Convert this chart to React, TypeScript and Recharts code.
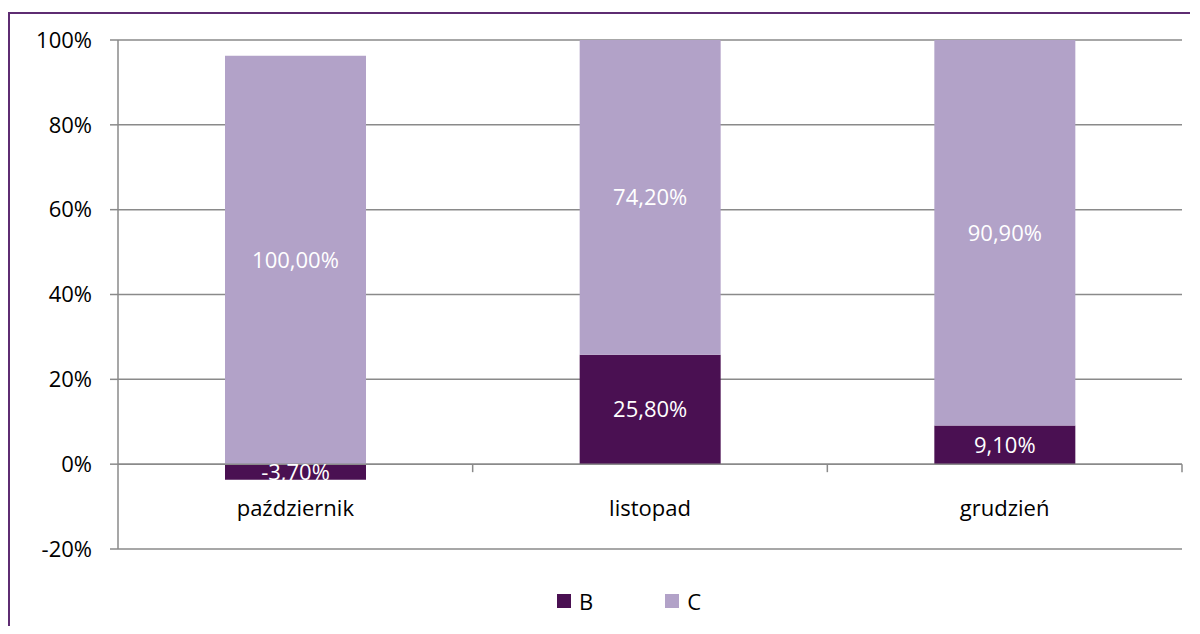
import React from 'react';
import { BarChart, Bar, XAxis, YAxis, CartesianGrid, Legend, LabelList, ReferenceLine } from 'recharts';

const months = ['październik', 'listopad', 'grudzień'];
const bValues = [-3.7, 25.8, 9.1];
const cValues = [100, 74.2, 90.9];
const yTicks = [-20, 0, 20, 40, 60, 80, 100];

const B_COLOR = '#4a1052';
const C_COLOR = '#b2a2c8';
const GRID = '#8a8a8a';
const FONT = '"Open Sans", Lato, sans-serif';
const FS = 22;

const CHART_W = 1180;
const CHART_H = 612;
const MARGIN = { top: 26, right: 8, left: 0, bottom: 47 };
const Y_AXIS_W = 108;
const PLOT_H = CHART_H - MARGIN.top - MARGIN.bottom - 30;
const PLOT_W = CHART_W - MARGIN.left - MARGIN.right - Y_AXIS_W;
// distance of the 0% line above the bottom of the plot
const ZERO_UP = (PLOT_H * (0 - yTicks[0])) / (yTicks[yTicks.length - 1] - yTicks[0]);

// bars drawn as ranges so C starts on 0 when B is negative (like Excel did)
const data = months.map((m, i) => ({
    name: m,
    b: bValues[i],
    c: cValues[i],
    bRange: [0, bValues[i]],
    cRange: [Math.max(bValues[i], 0), bValues[i] + cValues[i]],
}));

const pct = (v: any) => `${Number(v).toFixed(2).replace('.', ',')}%`;

const CategoryTick = (props: any) => {
    const { x, y, payload, width, visibleTicksCount } = props;
    const band = (typeof width === 'number' ? width : PLOT_W) / (visibleTicksCount || months.length);
    const zeroY = y - ZERO_UP;
    return (
        <g>
            <line x1={x + band / 2} x2={x + band / 2} y1={zeroY} y2={zeroY + 8} stroke={GRID} strokeWidth={1.5} />
            <text x={x} y={y - 41} dy="0.35em" textAnchor="middle" fill="#000" fontSize={FS} fontFamily={FONT}>
                {payload.value}
            </text>
        </g>
    );
};

const LegendContent = () => (
    <div style={{ display: 'flex', alignItems: 'center', fontFamily: FONT, fontSize: FS, color: '#000' }}>
        <span style={{ width: 14, height: 14, background: B_COLOR, display: 'inline-block', marginRight: 8 }} />
        <span style={{ marginRight: 72 }}>B</span>
        <span style={{ width: 14, height: 14, background: C_COLOR, display: 'inline-block', marginRight: 8 }} />
        <span>C</span>
    </div>
);

export default function App() {
    return (
        <div style={{ paddingTop: 4 }}>
            <div style={{ borderTop: '2px solid #5e2c72', borderLeft: '2px solid #5e2c72', width: CHART_W, height: CHART_H }}>
                <BarChart width={CHART_W} height={CHART_H} data={data} margin={MARGIN} barGap={-141} barSize={141}>
                    <CartesianGrid vertical={false} stroke={GRID} strokeWidth={1.5} />
                    <XAxis
                        dataKey="name"
                        height={30}
                        axisLine={false}
                        tickLine={false}
                        tickSize={0}
                        tickMargin={0}
                        tick={<CategoryTick />}
                        interval={0}
                    />
                    <YAxis
                        width={Y_AXIS_W}
                        domain={[-20, 100]}
                        ticks={yTicks}
                        tickFormatter={(v) => `${v}%`}
                        axisLine={{ stroke: GRID, strokeWidth: 1.5 }}
                        tickLine={{ stroke: GRID, strokeWidth: 1.5 }}
                        tickSize={8}
                        tickMargin={18}
                        tick={{ fill: '#000', fontSize: FS, fontFamily: FONT }}
                        allowDataOverflow
                    />
                    <ReferenceLine y={0} stroke={GRID} strokeWidth={1.5} />
                    <Bar dataKey="bRange" name="B" fill={B_COLOR} isAnimationActive={false}>
                        <LabelList dataKey="b" position="center" formatter={pct} fill="#fff" fontSize={FS} fontFamily={FONT} />
                    </Bar>
                    <Bar dataKey="cRange" name="C" fill={C_COLOR} isAnimationActive={false}>
                        <LabelList dataKey="c" position="center" formatter={pct} fill="#fff" fontSize={FS} fontFamily={FONT} />
                    </Bar>
                    <Legend
                        verticalAlign="middle"
                        align="center"
                        content={<LegendContent />}
                        wrapperStyle={{ top: 572, left: 547, width: 'auto' }}
                    />
                </BarChart>
            </div>
        </div>
    );
}
